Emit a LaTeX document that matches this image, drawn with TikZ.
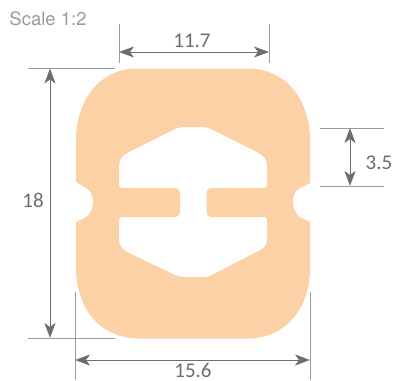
\documentclass[tikz,border=0pt]{standalone}
\usepackage{fontspec}
\setmainfont{Carlito}
\newfontfamily\scalefont{TeX Gyre Heros}
\usetikzlibrary{arrows.meta}
\definecolor{profile}{HTML}{FDD1A6}
\definecolor{dimgrey}{HTML}{6D6E71}
\definecolor{extgrey}{HTML}{9A9B9E}
\tikzset{
  dimline/.style={draw=dimgrey, line width=1pt, {Stealth[length=15pt,width=11pt,inset=4pt]}-{Stealth[length=15pt,width=11pt,inset=4pt]}},
  extline/.style={draw=extgrey, line width=1pt},
  dimlabel/.style={text=dimgrey, font=\fontsize{21}{21}\selectfont, inner sep=0pt}
}
\begin{document}
\begin{tikzpicture}[x=1pt, y=-1pt]
\useasboundingbox (0,0) rectangle (395,380);
% profile
\fill[profile, even odd rule] (137,68.5) -- (248,68.5)
  .. controls (286,68.5) and (310,100) .. (310,140) -- (310,183)
  -- (300,188) .. controls (295,191) and (293,196) .. (293,202)
  .. controls (293,208) and (295,213) .. (300,217) -- (310,222)
  -- (310,268) .. controls (310,308) and (286,338.5) .. (248,338.5)
  -- (139,338.5) .. controls (100,338.5) and (76,308) .. (76,268)
  -- (76,222) -- (86,217) .. controls (91,213) and (93,208) .. (93,202)
  .. controls (93,196) and (91,191) .. (86,188) -- (76,182)
  -- (76,140) .. controls (76,100) and (100,68.5) .. (137,68.5) -- cycle
  % hole
  (183,127) -- (203,127) .. controls (206,127) and (208,128) .. (211,129)
  -- (259,153) .. controls (264,156) and (267,160) .. (267,166)
  -- (267,184) .. controls (267,187) and (266,188) .. (264,188)
  -- (211,188) .. controls (208,188) and (206.5,190) .. (206.5,193)
  -- (206.5,212) .. controls (206.5,215) and (208,217) .. (211,217)
  -- (264,217) .. controls (266,217) and (267,218) .. (267,220)
  -- (267,240) .. controls (267,245) and (264,248) .. (260,250)
  -- (212,275) .. controls (209,276.5) and (207,277) .. (204,277)
  -- (184,277) .. controls (181,277) and (178,276.5) .. (175,275)
  -- (127,252) .. controls (122,249) and (119,245) .. (119,240)
  -- (119,220) .. controls (119,218) and (120,217) .. (122,217)
  -- (174,217) .. controls (178,217) and (180,215) .. (180,212)
  -- (180,193) .. controls (180,190) and (178,188) .. (174,188)
  -- (122,188) .. controls (120,188) and (119,187) .. (119,185)
  -- (119,166) .. controls (119,160) and (122,156) .. (127,153)
  -- (175,129) .. controls (178,128) and (180,127) .. (183,127) -- cycle;
% extension lines
\coordinate (wt1) at (119,24);
\coordinate (wt2) at (119,63);
\coordinate (wt3) at (269,24);
\coordinate (wt4) at (269,63);
\coordinate (hl1) at (28,68.5);
\coordinate (hl2) at (115,68.5);
\coordinate (hl3) at (28,338);
\coordinate (hl4) at (115,338);
\coordinate (wb1) at (75,292);
\coordinate (wb2) at (75,380);
\coordinate (wb3) at (310,292);
\coordinate (wb4) at (310,380);
\coordinate (sl1) at (320,128);
\coordinate (sl2) at (384,128);
\coordinate (sl3) at (320,186);
\coordinate (sl4) at (384,186);
\draw[extline] (wt1) -- (wt2);
\draw[extline] (wt3) -- (wt4);
\draw[extline] (hl1) -- (hl2);
\draw[extline] (hl3) -- (hl4);
\draw[extline] (wb1) -- (wb2);
\draw[extline] (wb3) -- (wb4);
\draw[extline] (sl1) -- (sl2);
\draw[extline] (sl3) -- (sl4);
% dimensions
\coordinate (wtl) at (119,52);
\coordinate (wtr) at (269,52);
\coordinate (hlt) at (50,68.5);
\coordinate (hlb) at (50,338);
\coordinate (wbl) at (75,360);
\coordinate (wbr) at (310,360);
\coordinate (slt) at (350,128);
\coordinate (slb) at (350,186);
\draw[dimline] (wtl) -- (wtr);
\draw[dimline] (hlt) -- (hlb);
\draw[dimline] (wbl) -- (wbr);
\draw[dimline] (slt) -- (slb);
\node[dimlabel] (toplabel) at (192,40.5) {11.7};
\node[dimlabel] (heightlabel) at (33,200) {18};
\node[dimlabel] (bottomlabel) at (193,370) {15.6};
\node[dimlabel] (sidelabel) at (379,163) {3.5};
\node[text=extgrey, font=\scalefont\fontsize{18.5}{19}\selectfont, inner sep=0pt] (scalelabel) at (48,19) {Scale 1:2};
\end{tikzpicture}
\end{document}
